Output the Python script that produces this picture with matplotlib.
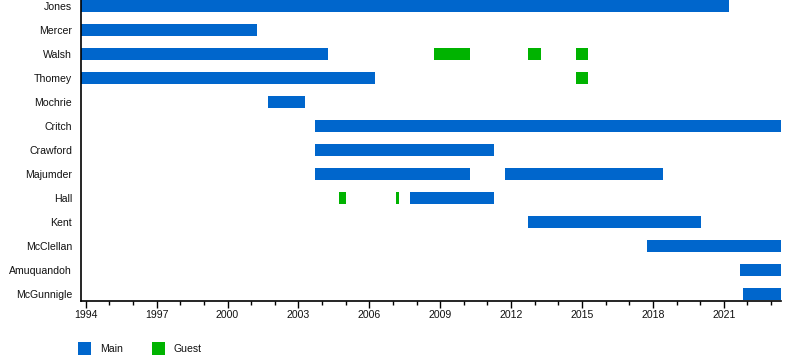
import matplotlib
matplotlib.use("Agg")
import matplotlib.pyplot as plt
from matplotlib.patches import Rectangle

plt.rcParams['font.family'] = ['Liberation Sans', 'DejaVu Sans']

XMIN, XMAX = 1993.78, 2023.42

members = ["Jones", "Mercer", "Walsh", "Thomey", "Mochrie", "Critch", "Crawford",
           "Majumder", "Hall", "Kent", "McClellan", "Amuquandoh", "McGunnigle"]

# (member, start, end) in decimal years
main_spans = [
    ("Jones", 1993.78, 2021.22),
    ("Mercer", 1993.78, 2001.25),
    ("Walsh", 1993.78, 2004.26),
    ("Thomey", 1993.78, 2006.25),
    ("Mochrie", 2001.73, 2003.29),
    ("Critch", 2003.71, 2023.42),
    ("Crawford", 2003.71, 2011.28),
    ("Majumder", 2003.71, 2010.27),
    ("Majumder", 2011.75, 2018.42),
    ("Hall", 2007.72, 2011.28),
    ("Kent", 2012.72, 2020.03),
    ("McClellan", 2017.74, 2023.42),
    ("Amuquandoh", 2021.67, 2023.42),
    ("McGunnigle", 2021.80, 2023.42),
]
guest_spans = [
    ("Walsh", 2008.74, 2010.27),
    ("Walsh", 2012.72, 2013.27),
    ("Walsh", 2014.75, 2015.25),
    ("Thomey", 2014.75, 2015.25),
    ("Hall", 2004.72, 2005.02),
    ("Hall", 2007.14, 2007.25),
]
major_years = list(range(1994, 2022, 3))
minor_years = list(range(1994, 2024))

MAIN_COLOR = "#0066CC"
GUEST_COLOR = "#00B300"

fig = plt.figure(figsize=(8, 3.6), dpi=100)
ax = fig.add_axes([80.5 / 800, (360 - 300.5) / 360, (781 - 80.5) / 800, 300.5 / 360])

idx = {m: i for i, m in enumerate(members)}
for spans, col in ((main_spans, MAIN_COLOR), (guest_spans, GUEST_COLOR)):
    ys = [idx[m] for m, s, e in spans]
    lefts = [s for m, s, e in spans]
    widths = [e - s for m, s, e in spans]
    ax.barh(ys, widths, left=lefts, height=0.5, color=col, linewidth=0)

ax.set_xlim(XMIN, XMAX)
ax.set_ylim(12.27, -0.25)
ax.set_yticks(range(len(members)))
ax.set_yticklabels(members, fontsize=7.6, color="#111111")
ax.tick_params(axis='y', length=0, pad=6)
ax.set_xticks(major_years)
ax.set_xticklabels([str(y) for y in major_years], fontsize=7.6, color="#111111")
ax.set_xticks(minor_years, minor=True)
ax.tick_params(axis='x', which='major', length=5, width=1, pad=2)
ax.tick_params(axis='x', which='minor', length=3, width=1)
for s in ("top", "right"):
    ax.spines[s].set_visible(False)
for s in ("left", "bottom"):
    ax.spines[s].set_linewidth(1.2)

# legend
legend_items = [("Main", MAIN_COLOR, 78), ("Guest", GUEST_COLOR, 152)]
for label, col, x0 in legend_items:
    fig.patches.append(Rectangle((x0 / 800, (360 - 355) / 360), 13 / 800, 13 / 360,
                                 transform=fig.transFigure, color=col, linewidth=0))
    fig.text((x0 + 22) / 800, (360 - 349) / 360, label, fontsize=7.6,
             va='center', ha='left', color="#111111")

fig.savefig("out.png", dpi=100)
